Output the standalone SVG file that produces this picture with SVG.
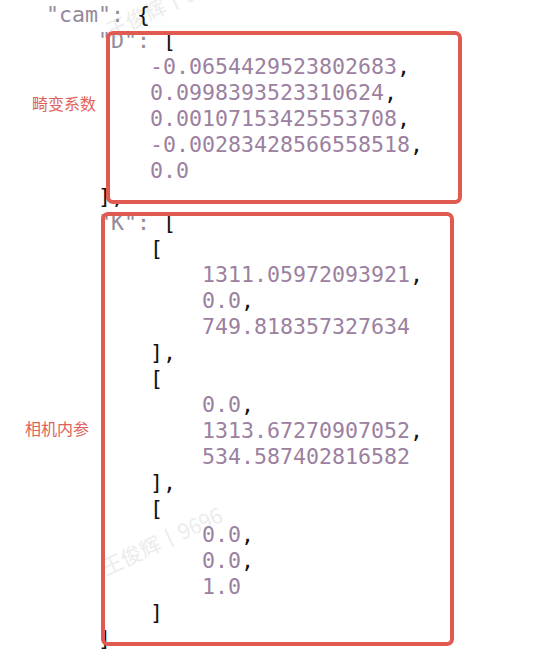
<svg xmlns="http://www.w3.org/2000/svg" width="560" height="653" viewBox="0 0 560 653">
<style>
.code{font-family:"DejaVu Sans Mono","Liberation Mono",monospace;font-size:21.6px;white-space:pre;fill:#111}
.k{fill:#958a9b}
.n{fill:#9b80a0}
.p{fill:#8f8f8f}
.box{fill:none;stroke:#e15a4f;stroke-width:4}
.lbl{font-family:"Noto Sans CJK SC","Noto Sans",sans-serif;font-size:16px;fill:#e0625a}
.wm{font-family:"Noto Sans CJK SC","Noto Sans",sans-serif;font-size:21px;fill:#ececec}
</style>
<rect width="560" height="653" fill="#ffffff"/>
<g id="watermarks">
<text class="wm" transform="translate(106 576) rotate(-25)">王俊辉丨9696</text>
<text class="wm" transform="translate(111 39) rotate(-25)">王俊辉丨9696</text>
</g>
<g id="code" class="code">
<text x="46" y="22"><tspan class="k">"cam"</tspan><tspan class="p">: </tspan>{</text>
<text x="98" y="48"><tspan class="k">"D"</tspan><tspan class="p">: </tspan>[</text>
<text x="150" y="74"><tspan class="n">-0.0654429523802683</tspan>,</text>
<text x="150" y="100"><tspan class="n">0.0998393523310624</tspan>,</text>
<text x="150" y="126"><tspan class="n">0.00107153425553708</tspan>,</text>
<text x="150" y="152"><tspan class="n">-0.00283428566558518</tspan>,</text>
<text x="150" y="178"><tspan class="n">0.0</tspan></text>
<text x="98" y="204">],</text>
<text x="98" y="230"><tspan class="k">"K"</tspan><tspan class="p">: </tspan>[</text>
<text x="150" y="256">[</text>
<text x="202" y="282"><tspan class="n">1311.05972093921</tspan>,</text>
<text x="202" y="308"><tspan class="n">0.0</tspan>,</text>
<text x="202" y="334"><tspan class="n">749.818357327634</tspan></text>
<text x="150" y="360">],</text>
<text x="150" y="386">[</text>
<text x="202" y="412"><tspan class="n">0.0</tspan>,</text>
<text x="202" y="438"><tspan class="n">1313.67270907052</tspan>,</text>
<text x="202" y="464"><tspan class="n">534.587402816582</tspan></text>
<text x="150" y="490">],</text>
<text x="150" y="516">[</text>
<text x="202" y="542"><tspan class="n">0.0</tspan>,</text>
<text x="202" y="568"><tspan class="n">0.0</tspan>,</text>
<text x="202" y="594"><tspan class="n">1.0</tspan></text>
<text x="150" y="620">]</text>
<text x="98" y="646">]</text>
</g>
<g id="box-distortion">
<rect class="box" x="108" y="33" width="352" height="169" rx="5"/>
<text class="lbl" x="32" y="110">畸变系数</text>
</g>
<g id="box-intrinsics">
<rect class="box" x="103" y="214" width="349" height="430" rx="5"/>
<text class="lbl" x="25" y="435">相机内参</text>
</g>
</svg>
